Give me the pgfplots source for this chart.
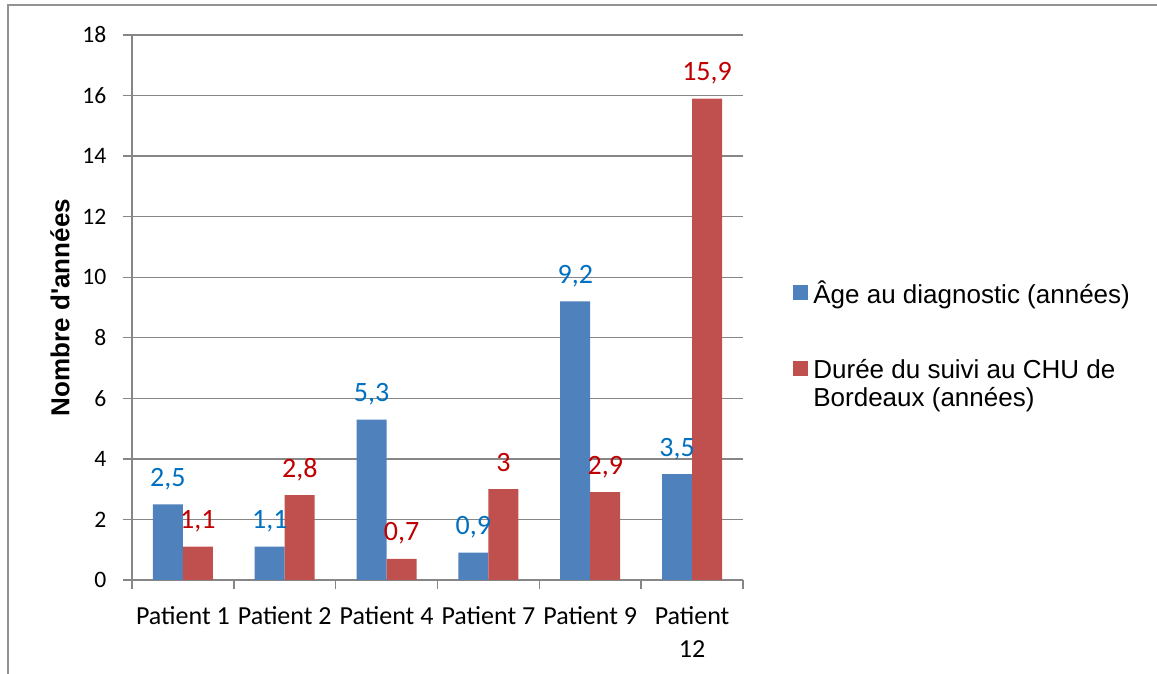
\documentclass[border=0pt]{standalone}
\usepackage{fontspec}
\setmainfont{Carlito}
\newfontfamily\arial{Liberation Sans}[Ligatures=TeXOff]
\usepackage{pgfplots}
\pgfplotsset{compat=1.18}
\definecolor{barblue}{HTML}{4F81BD}
\definecolor{barred}{HTML}{C0504D}
\definecolor{lblblue}{HTML}{0070C0}
\definecolor{lblred}{HTML}{C00000}
\definecolor{gridgray}{HTML}{868686}
\pgfplotsset{
  flatlegend/.style={legend image code/.code={\fill[##1] (0pt,1.5pt) rectangle (7.5pt,9pt);}},
  raisedlegend/.style={legend image code/.code={\fill[##1] (0pt,15.5pt) rectangle (7.5pt,23pt);}},
}
\begin{document}
\fontsize{13}{16.5}\selectfont
\begin{tikzpicture}
\useasboundingbox (-66pt,-47pt) rectangle (512.5pt,290pt);
\fill[white] (-66pt,-47pt) rectangle (512.5pt,290pt);
\draw[gridgray!90, line width=0.8pt] (-62pt,-50pt) -- (-62pt,287.5pt) -- (515pt,287.5pt);
\begin{axis}[
  scale only axis, width=305.5pt, height=272.5pt,
  at={(0pt,0pt)}, anchor=south west,
  ybar=0pt, bar width=15pt,
  xmin=-0.5, xmax=5.5, ymin=0, ymax=18,
  xtick={0,...,5},
  xticklabels={Patient 1,Patient 2,Patient 4,Patient 7,Patient 9,{Patient\\12}},
  minor xtick={-0.5,0.5,...,5.5},
  ytick={0,2,...,18},
  yticklabels={0,2,4,6,8,10,12,14,16,18},
  axis x line=bottom, axis y line=left,
  axis line style={-, gridgray, line width=0.7pt},
  tick style={gridgray, line width=0.7pt},
  major tick length=4.5pt, minor tick length=4.5pt,
  tick align=outside,
  major x tick style={draw=none},
  ymajorgrids, major grid style={gridgray, line width=0.7pt},
  /pgf/number format/assume math mode=true,
  /pgf/number format/use comma,
  xticklabel style={align=center, font=\fontsize{13}{16.5}\selectfont, yshift=-4pt},
  yticklabel style={font=\fontsize{10}{12}\selectfont, scale=1.18, xshift=-2.5pt},
  ylabel={\arial\bfseries\fontsize{13}{15}\selectfont Nombre d'années},
  ylabel style={at={(axis description cs:-0.1178,0.5)}, anchor=center},
  nodes near coords,
  clip=false,
  flatlegend,
  legend style={at={(1.0818,0.5505)}, anchor=north west, draw=none, fill=none,
    inner sep=0pt, font={\arial\fontsize{13}{14}\selectfont},
    cells={anchor=base west, align=left}, nodes={inner sep=0pt},
    column sep=2.5pt, row sep=26.2pt},
]
\addplot[fill=barblue, draw=none,
  every node near coord/.append style={anchor=base, yshift=9pt, text=lblblue, font=\fontsize{14}{16}\selectfont}]
  coordinates {(0,2.5) (1,1.1) (2,5.3) (3,0.9) (4,9.2) (5,3.5)};
\addlegendentry{Âge au diagnostic (années)}
\addplot[fill=barred, draw=none, raisedlegend,
  every node near coord/.append style={anchor=base, yshift=9pt, text=lblred, font=\fontsize{14}{16}\selectfont}]
  coordinates {(0,1.1) (1,2.8) (2,0.7) (3,3) (4,2.9) (5,15.9)};
\addlegendentry{Durée du suivi au CHU de\\Bordeaux (années)}
\end{axis}
\end{tikzpicture}
\end{document}
